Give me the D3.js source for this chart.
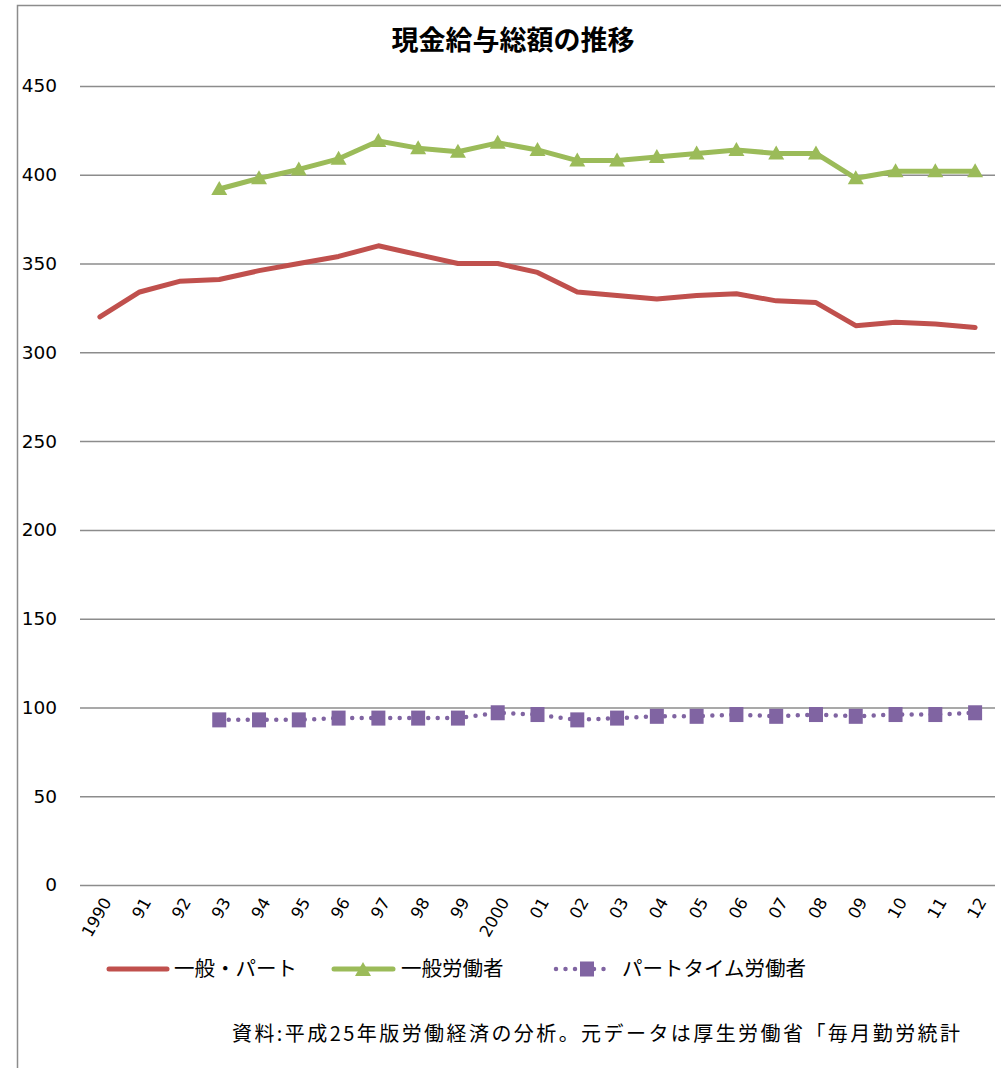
<!DOCTYPE html>
<html>
<head>
<meta charset="utf-8">
<script src="https://cdn.jsdelivr.net/npm/d3@7"></script>
<style>
  html, body { margin: 0; padding: 0; background: #fff; }
  svg { display: block; }
</style>
</head>
<body>
<svg id="chart" width="1001" height="1068"></svg>
<script>
// Year categories along the x axis
const years = ["1990","91","92","93","94","95","96","97","98","99","2000",
               "01","02","03","04","05","06","07","08","09","10","11","12"];

// 一般・パート (all workers, 1990–2012)
const allWorkers = [320, 334, 340, 341, 346, 350, 354, 360, 355, 350, 350,
                    345, 334, 332, 330, 332, 333, 329, 328, 315, 317, 316, 314];

// 一般労働者 (full-time workers, from 1993)
const generalWorkers = [null, null, null, 392, 398, 403, 409, 419, 415, 413, 418,
                        414, 408, 408, 410, 412, 414, 412, 412, 398, 402, 402, 402];

// パートタイム労働者 (part-time workers, from 1993)
const partTimeWorkers = [null, null, null, 93, 93, 93, 94, 94, 94, 94, 97,
                         96, 93, 94, 95, 95, 96, 95, 96, 95, 96, 96, 97];

const yTicks = [0, 50, 100, 150, 200, 250, 300, 350, 400, 450];

const seriesNames = ["一般・パート", "一般労働者", "パートタイム労働者"];
const titleText = "現金給与総額の推移";
const sourceText = "資料:平成25年版労働経済の分析。元データは厚生労働省「毎月勤労統計";

const colors = { red: "#C0504D", green: "#9BBB59", purple: "#8064A2", grid: "#8c8c8c" };

const svg = d3.select("#chart");

// chart frame
svg.append("path")
  .attr("d", "M17.5,1068 L17.5,5.5 L1001,5.5")
  .attr("fill", "none")
  .attr("stroke", "#8c8c8c")
  .attr("stroke-width", 1.5);

const x = d3.scalePoint().domain(years).range([80, 995]).padding(0.5);
const y = d3.scaleLinear().domain([0, 450]).range([885, 86]);

// title
svg.append("text")
  .attr("x", 513).attr("y", 50)
  .attr("text-anchor", "middle")
  .attr("font-family", "'Noto Sans CJK JP', sans-serif")
  .attr("font-weight", "bold")
  .attr("font-size", 27)
  .attr("fill", "#000")
  .text(titleText);

// horizontal gridlines and y tick labels
const yAxis = d3.axisLeft(y).tickValues(yTicks).tickSize(-915).tickPadding(23).tickFormat(d3.format("d"));
const gy = svg.append("g").attr("transform", "translate(80,0)").call(yAxis);
gy.select(".domain").remove();
gy.selectAll(".tick line").attr("stroke", colors.grid).attr("stroke-width", 1.5);
gy.selectAll(".tick text")
  .attr("font-family", "'DejaVu Sans', sans-serif")
  .attr("font-size", 18.5)
  .attr("fill", "#000");

// x tick labels, rotated
const gx = svg.append("g").attr("class", "x-labels");
gx.selectAll("text").data(years).join("text")
  .attr("transform", d => `translate(${x(d) + 7},${899}) rotate(-60)`)
  .attr("text-anchor", "end")
  .attr("dy", "0.35em")
  .attr("font-family", "'DejaVu Sans', sans-serif")
  .attr("font-size", 16.5)
  .attr("fill", "#000")
  .text(d => d);

const line = d3.line()
  .defined(d => d.v != null)
  .x(d => x(d.year))
  .y(d => y(d.v));

const toPoints = arr => years.map((year, i) => ({ year, v: arr[i] }));

// 一般・パート
svg.append("path")
  .datum(toPoints(allWorkers))
  .attr("d", line)
  .attr("fill", "none")
  .attr("stroke", colors.red)
  .attr("stroke-width", 5)
  .attr("stroke-linejoin", "round")
  .attr("stroke-linecap", "round");

// 一般労働者
const genPts = toPoints(generalWorkers).filter(d => d.v != null);
svg.append("path")
  .datum(genPts)
  .attr("d", line)
  .attr("fill", "none")
  .attr("stroke", colors.green)
  .attr("stroke-width", 5)
  .attr("stroke-linejoin", "round");

const triangle = "M0,-8 L8,6 L-8,6 Z";
svg.append("g").selectAll("path").data(genPts).join("path")
  .attr("transform", d => `translate(${x(d.year)},${y(d.v)})`)
  .attr("d", triangle)
  .attr("fill", colors.green);

// パートタイム労働者
const partPts = toPoints(partTimeWorkers).filter(d => d.v != null);
svg.append("path")
  .datum(partPts)
  .attr("d", line)
  .attr("fill", "none")
  .attr("stroke", colors.purple)
  .attr("stroke-width", 4.5)
  .attr("stroke-dasharray", "0 9.5")
  .attr("stroke-linecap", "round");

svg.append("g").selectAll("rect").data(partPts).join("rect")
  .attr("x", d => x(d.year) - 7)
  .attr("y", d => y(d.v) - 7.5)
  .attr("width", 14)
  .attr("height", 15)
  .attr("fill", colors.purple);

// legend
const legendY = 969;
const legend = svg.append("g")
  .attr("font-family", "'Noto Sans CJK JP', sans-serif")
  .attr("font-size", 20.5)
  .attr("fill", "#000");

legend.append("line")
  .attr("x1", 109).attr("x2", 167).attr("y1", legendY).attr("y2", legendY)
  .attr("stroke", colors.red).attr("stroke-width", 5).attr("stroke-linecap", "round");
legend.append("text").attr("x", 174).attr("y", legendY).attr("dy", "0.36em").text(seriesNames[0]);

legend.append("line")
  .attr("x1", 334).attr("x2", 393).attr("y1", legendY).attr("y2", legendY)
  .attr("stroke", colors.green).attr("stroke-width", 5).attr("stroke-linecap", "round");
legend.append("path")
  .attr("transform", `translate(363,${legendY + 1})`)
  .attr("d", triangle)
  .attr("fill", colors.green);
legend.append("text").attr("x", 401).attr("y", legendY).attr("dy", "0.36em").text(seriesNames[1]);

legend.append("line")
  .attr("x1", 556).attr("x2", 612).attr("y1", legendY).attr("y2", legendY)
  .attr("stroke", colors.purple).attr("stroke-width", 4.5)
  .attr("stroke-dasharray", "0 9.5").attr("stroke-linecap", "round");
legend.append("rect")
  .attr("x", 580).attr("y", legendY - 7.5).attr("width", 14).attr("height", 15)
  .attr("fill", colors.purple);
legend.append("text").attr("x", 622).attr("y", legendY).attr("dy", "0.36em").text(seriesNames[2]);

// source note
svg.append("text")
  .attr("x", 232).attr("y", 1041)
  .attr("font-family", "'Noto Sans CJK JP', sans-serif")
  .attr("font-size", 20)
  .attr("textLength", 728)
  .attr("lengthAdjust", "spacing")
  .attr("fill", "#000")
  .text(sourceText);
</script>
</body>
</html>
